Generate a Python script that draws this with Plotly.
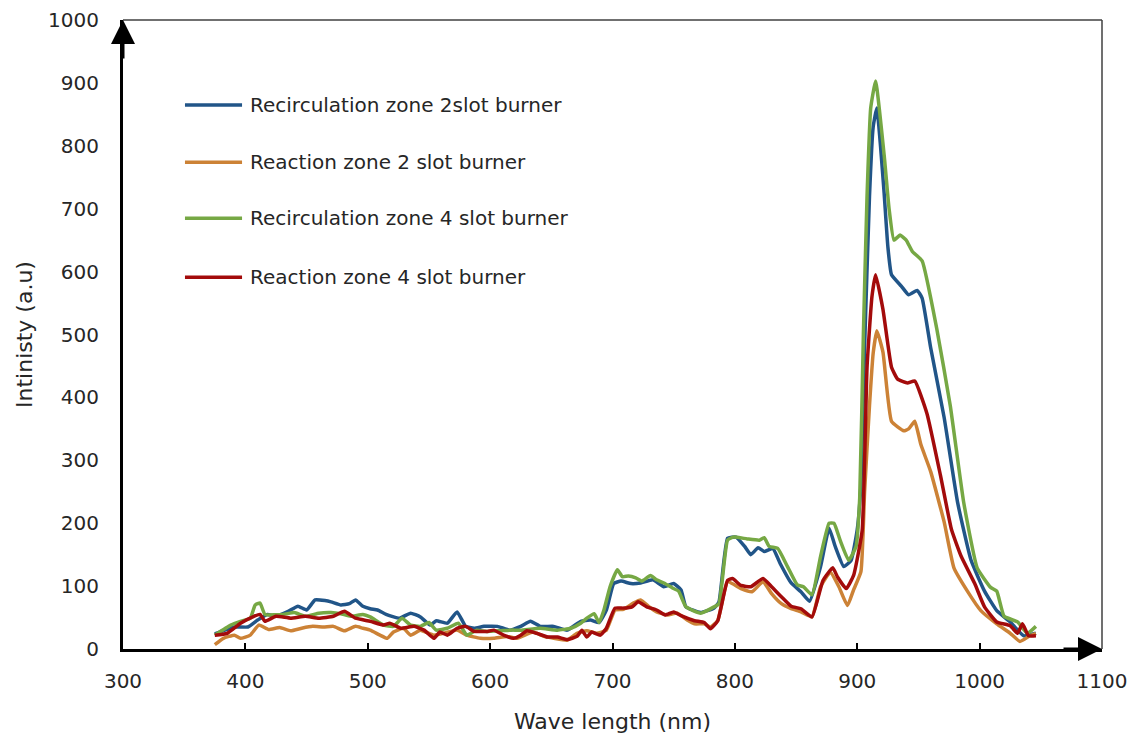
import plotly.graph_objects as go

# ---------------- data ----------------
series_names = [
    "Recirculation zone 2slot burner",
    "Reaction zone 2 slot burner",
    "Recirculation zone 4 slot burner",
    "Reaction zone 4 slot burner",
]
series_colors = ["#215588", "#CC8236", "#76A844", "#A30B0B"]

blue_x = [375, 391, 402, 410, 418, 425, 435, 443, 450, 457, 465, 470, 478, 485, 490, 496, 502, 508, 515, 526,
          535, 543, 551, 556, 565, 573, 580, 587, 595, 606, 616, 625, 633, 641, 652, 663, 674, 682, 689, 695,
          701, 707, 715, 723, 733, 742, 750, 756, 760, 772, 783, 787, 794, 801, 808, 813, 819, 824, 831, 837,
          846, 854, 861, 870, 877, 882, 889, 895, 900, 903, 906, 910, 913, 916, 919, 922, 925, 928, 936, 942,
          949, 953, 960, 971, 982, 993, 1004, 1014, 1025, 1036, 1046]
blue_y = [24, 35, 35, 46, 55, 52, 60, 68, 62, 78, 77, 75, 70, 72, 78, 68, 64, 62, 55, 49,
          57, 51, 38, 45, 41, 59, 36, 33, 36, 36, 30, 36, 44, 36, 36, 30, 44, 46, 42, 62,
          104, 108, 104, 105, 110, 99, 104, 94, 67, 58, 65, 75, 176, 178, 163, 150, 161, 155, 160, 136,
          105, 91, 76, 131, 192, 163, 131, 141, 190, 260, 480, 720, 830, 860, 800, 724, 640, 595, 577, 563,
          570, 558, 479, 368, 233, 141, 92, 61, 43, 21, 25]

orange_x = [375, 382, 391, 396, 404, 411, 419, 428, 437, 446, 455, 464, 472, 481, 490, 496, 502, 510, 516, 521,
            529, 535, 543, 554, 562, 573, 581, 592, 603, 614, 622, 635, 644, 652, 663, 671, 679, 687, 695, 702,
            709, 717, 723, 730, 736, 745, 753, 761, 767, 775, 780, 786, 794, 805, 814, 823, 830, 838, 846, 854,
            863, 870, 878, 885, 892, 897, 903, 906, 910, 913, 916, 921, 928, 938, 942, 947, 952, 960, 971, 979,
            990, 1001, 1014, 1025, 1033, 1041, 1046]
orange_y = [7, 17, 22, 17, 22, 38, 31, 34, 29, 33, 36, 35, 36, 29, 36, 33, 30, 22, 17, 27,
            33, 22, 30, 22, 25, 30, 22, 17, 17, 20, 17, 27, 20, 17, 14, 25, 29, 25, 30, 62,
            63, 73, 78, 67, 59, 54, 57, 46, 40, 40, 35, 45, 107, 96, 91, 107, 88, 72, 64, 59,
            51, 99, 122, 99, 69, 94, 123, 250, 387, 470, 506, 472, 362, 347, 350, 362, 325, 282, 202, 129,
            92, 61, 40, 25, 12, 21, 25]

green_x = [375, 388, 396, 404, 408, 412, 416, 431, 440, 449, 460, 470, 478, 486, 496, 502, 513, 521, 528, 535,
           543, 550, 556, 565, 574, 581, 589, 597, 608, 617, 625, 641, 655, 666, 674, 679, 685, 689, 693, 698,
           704, 708, 713, 719, 724, 731, 736, 742, 749, 754, 760, 772, 783, 787, 794, 799, 810, 820, 824, 828,
           835, 843, 851, 856, 863, 870, 877, 881, 886, 893, 899, 902, 905, 908, 911, 915, 922, 926, 930, 935,
           940, 945, 953, 965, 976, 987, 998, 1009, 1014, 1020, 1031, 1039, 1046]
green_y = [22, 38, 44, 49, 70, 73, 55, 55, 58, 52, 57, 58, 56, 52, 55, 51, 38, 36, 49, 38,
           36, 42, 30, 33, 41, 22, 30, 28, 29, 30, 30, 33, 30, 33, 41, 49, 56, 42, 62, 99,
           126, 115, 116, 113, 108, 117, 110, 105, 97, 92, 67, 57, 67, 72, 173, 178, 175, 173, 177, 163,
           160, 131, 102, 99, 86, 147, 200, 200, 173, 141, 163, 240, 500, 720, 860, 903, 785, 700, 650, 658,
           650, 632, 617, 509, 387, 233, 129, 98, 92, 52, 43, 25, 36]

red_x = [375, 385, 396, 407, 412, 416, 425, 437, 449, 460, 472, 481, 490, 502, 513, 518, 527, 538, 546, 554,
         559, 565, 573, 580, 587, 598, 603, 611, 619, 625, 630, 638, 647, 655, 663, 671, 675, 679, 683, 690,
         695, 702, 709, 716, 721, 728, 736, 743, 750, 756, 767, 775, 780, 786, 794, 798, 805, 813, 823, 830,
         838, 846, 854, 863, 872, 880, 884, 891, 897, 904, 908, 912, 915, 921, 928, 933, 941, 947, 957, 968,
         977, 985, 996, 1004, 1014, 1025, 1031, 1035, 1040, 1046]
red_y = [22, 25, 41, 52, 55, 44, 52, 49, 52, 49, 52, 60, 49, 44, 38, 41, 33, 36, 30, 17,
         27, 22, 33, 36, 28, 28, 30, 22, 17, 22, 29, 25, 19, 19, 15, 20, 30, 19, 27, 22,
         33, 65, 65, 67, 75, 67, 62, 54, 59, 53, 45, 42, 32, 45, 109, 112, 101, 99, 112, 99,
         83, 68, 64, 51, 109, 129, 114, 96, 117, 188, 448, 560, 595, 540, 448, 429, 423, 426, 374, 276,
         190, 147, 104, 67, 43, 37, 25, 40, 21, 21]

series_x = [blue_x, orange_x, green_x, red_x]
series_y = [blue_y, orange_y, green_y, red_y]

x_ticks = [300, 400, 500, 600, 700, 800, 900, 1000, 1100]
y_ticks = [0, 100, 200, 300, 400, 500, 600, 700, 800, 900, 1000]
x_title = "Wave length (nm)"
y_title = "Intinisty (a.u)"

# ---------------- figure ----------------
FONT = "DejaVu Sans"
TXT = "#262626"

fig = go.Figure()
for name, color, xs, ys in zip(series_names, series_colors, series_x, series_y):
    fig.add_trace(go.Scatter(
        x=xs, y=ys, name=name, mode="lines",
        line=dict(color=color, width=3.5, shape="spline", smoothing=0.4),
        showlegend=False,
    ))

fig.update_layout(
    width=1139, height=738,
    margin=dict(l=123, r=37, t=20, b=89),
    paper_bgcolor="white", plot_bgcolor="white",
    font=dict(family=FONT, size=20, color=TXT),
)

fig.update_xaxes(
    range=[300, 1100], tickvals=x_ticks, ticktext=[str(v) for v in x_ticks],
    showline=True, linecolor="black", linewidth=3,
    ticks="inside", ticklen=6, tickwidth=2, tickcolor="black",
    showgrid=False, zeroline=False, automargin=False,
    tickfont=dict(family=FONT, size=20, color=TXT),
    ticklabelstandoff=12,
    title=dict(text=x_title, font=dict(family=FONT, size=22, color=TXT), standoff=22),
)
fig.update_yaxes(
    range=[0, 1000], tickvals=y_ticks, ticktext=[str(v) for v in y_ticks],
    showline=True, linecolor="black", linewidth=3,
    ticks="", showgrid=False, zeroline=False, automargin=False,
    tickfont=dict(family=FONT, size=20, color=TXT),
    ticklabelstandoff=17,
    title=dict(text=y_title, font=dict(family=FONT, size=22, color=TXT), standoff=10),
)

# plot-area border (top and right)
fig.add_shape(type="line", xref="paper", yref="paper", x0=0, x1=1, y0=1, y1=1,
              line=dict(color="#404040", width=1.5))
fig.add_shape(type="line", xref="paper", yref="paper", x0=1, x1=1, y0=0, y1=1,
              line=dict(color="#404040", width=1.5))

# axis arrows
fig.add_annotation(x=300, y=1000, xref="x", yref="y", ax=0, ay=40, axref="pixel", ayref="pixel",
                   text="", showarrow=True, arrowhead=2, arrowsize=1.6, arrowwidth=3,
                   arrowcolor="black", standoff=0)
fig.add_annotation(x=1100, y=0, xref="x", yref="y", ax=-40, ay=0, axref="pixel", ayref="pixel",
                   text="", showarrow=True, arrowhead=2, arrowsize=1.6, arrowwidth=3,
                   arrowcolor="black", standoff=0)

# legend drawn inside plot area
legend_rows = [0.865, 0.774, 0.685, 0.591]
for name, color, yy in zip(series_names, series_colors, legend_rows):
    fig.add_shape(type="line", xref="paper", yref="paper", x0=0.0633, x1=0.1216, y0=yy, y1=yy,
                  line=dict(color=color, width=3.5))
    fig.add_annotation(x=0.1277, y=yy, xref="paper", yref="paper", text=name, showarrow=False,
                       xanchor="left", yanchor="middle",
                       font=dict(family=FONT, size=20, color=TXT))

fig.write_html("out.html")
